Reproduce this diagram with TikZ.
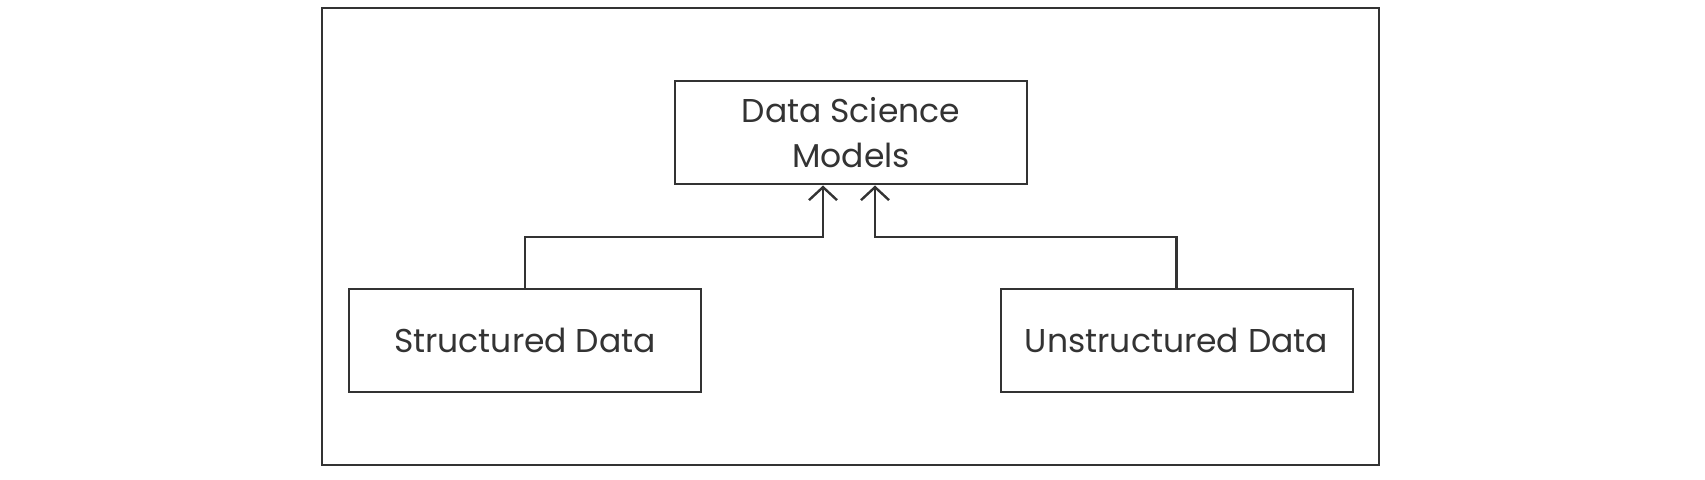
\documentclass[tikz,border=0pt]{standalone}
\usepackage{fontspec}
\setmainfont{Poppins}
\usetikzlibrary{arrows.meta}
\definecolor{inkgray}{RGB}{51,51,51}
\tikzset{every picture/.style={line width=1pt}}
\tikzset{
	blockbox/.style={draw=inkgray, rectangle, minimum width=176pt, minimum height=51.5pt, inner sep=0pt, align=center, text=inkgray, font=\fontsize{16.5}{22.5}\selectfont},
	feedline/.style={draw=inkgray, line width=1.2pt, -{Straight Barb[length=6.5pt,width=14pt,line width=1.2pt]}},
}

\begin{document}
\begin{tikzpicture}[x=0.5pt,y=0.5pt,yscale=-1,xscale=1]
	\useasboundingbox (0,0) rectangle (1705,480);
	
	%Shape: Rectangle (frame)
	\draw [draw=inkgray] (322,8) rectangle (1379,465);
	
	% Model box
	\node [blockbox] (dsm) at (851,133) {Data Science\\Models};
	% Data boxes
	\node [blockbox] (sd) at (525,340.5) {Structured Data};
	\node [blockbox] (ud) at (1176.5,340.5) {Unstructured Data};
	
	% Elbows
	\coordinate (jl) at (823,237);
	\coordinate (jr) at (875,237);
	
	\draw [feedline] (sd.north) |- (jl) -- (dsm.south -| jl);
	\draw [feedline] (ud.north) |- (jr) -- (dsm.south -| jr);
	
\end{tikzpicture}
\end{document}
